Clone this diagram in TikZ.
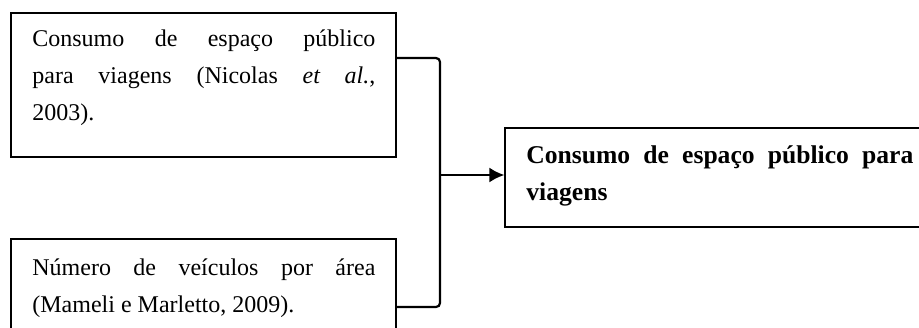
\documentclass[tikz,border=0pt]{standalone}
\usepackage{fontspec}
\setmainfont{Liberation Serif}
\usetikzlibrary{arrows.meta}
\tikzset{
  box/.style={draw=black, line width=0.6pt, rectangle, inner sep=0pt},
  txt/.style={anchor=base west, inner sep=0pt},
  bracket/.style={draw=black, line width=1.1pt, rounded corners=2pt},
  arrowline/.style={draw=black, line width=1.1pt, -{Latex[length=7.5pt,width=7.5pt]}}
}
\newcommand{\boxtext}[3]{\parbox[t]{#1}{\fontsize{#2}{18.5pt}\selectfont #3}}
\begin{document}
\begin{tikzpicture}[x=0.5pt,y=-0.5pt]
\useasboundingbox (0,0) rectangle (919,327);
\fill[white] (0,0) rectangle (919,327);
\node[box, minimum width=192.5pt, minimum height=72pt] (box1) at (203.5,85) {};
\node[box, minimum width=192.5pt, minimum height=48pt] (box2) at (203.5,287) {};
\node[box, minimum width=212.5pt, minimum height=49.5pt] (box3) at (717.5,177.5) {};
\node[txt] (t1) at (32,46) {\boxtext{171.5pt}{12pt}{Consumo de espaço público\linebreak para viagens (Nicolas \textit{et al.},\linebreak 2003).}};
\node[txt] (t2) at (32,275) {\boxtext{171.5pt}{12pt}{Número de veículos por área\linebreak (Mameli e Marletto, 2009).}};
\node[txt] (t3) at (526,163) {\boxtext{193.5pt}{12.8pt}{\bfseries Consumo de espaço público para\linebreak viagens}};
\coordinate (j1) at (440,58);
\coordinate (j2) at (440,307);
\coordinate (jm) at (440,175);
\draw[bracket] (box1.east |- j1) -- (j1) -- (j2) -- (box2.east |- j2);
\draw[arrowline] (jm) -- (box3.west |- jm);
\end{tikzpicture}
\end{document}
